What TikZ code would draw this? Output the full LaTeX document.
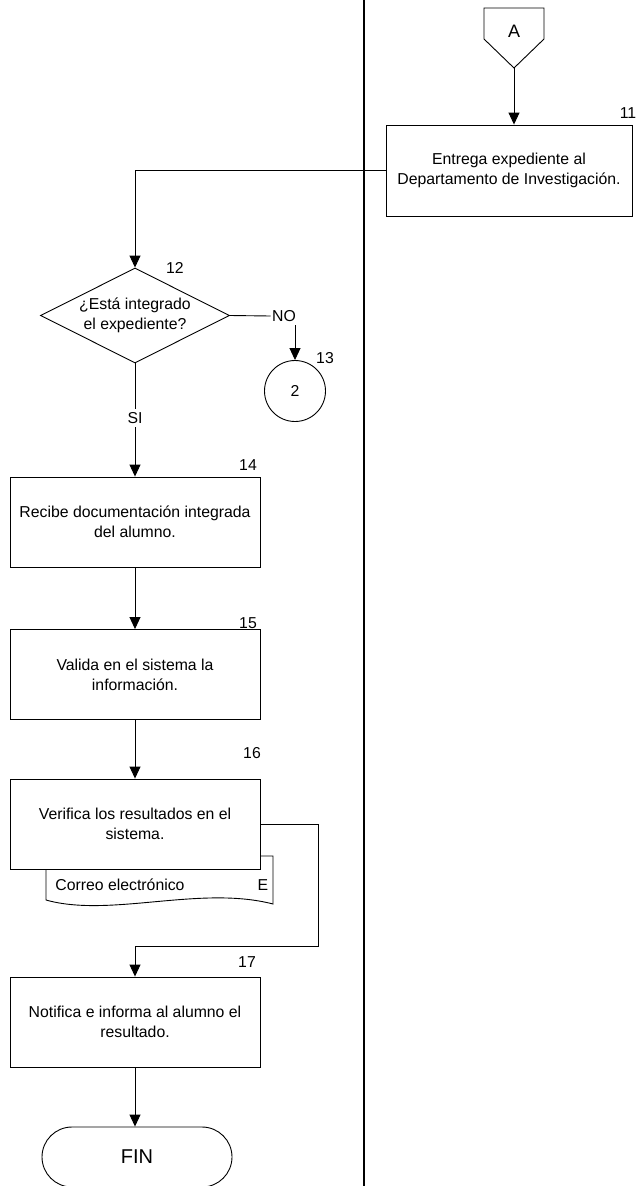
\documentclass[tikz,border=0pt]{standalone}
\usepackage{fontspec}
\setmainfont{Liberation Sans}
\usepackage{tikz}
\usetikzlibrary{shapes.geometric,arrows.meta,positioning}

\begin{document}
\begin{tikzpicture}[x=1pt, y=-1pt, line width=0.9pt,
    every node/.style={font=\fontsize{15.8pt}{20pt}\selectfont},
    proceso/.style={draw, fill=white, minimum width=250pt, minimum height=90pt,
        align=center, inner sep=0pt},
    decision/.style={diamond, draw, aspect=2, inner sep=0pt, align=center,
        minimum width=189pt, minimum height=95pt},
    conector/.style={circle, draw, minimum size=61pt, inner sep=0pt},
    terminal/.style={draw, rounded corners=30pt, minimum width=190pt,
        minimum height=60pt, font=\fontsize{20pt}{24pt}\selectfont},
    paso/.style={inner sep=0pt},
    flecha/.style={-{Triangle[length=12pt,width=11pt]}}]
    \useasboundingbox (0,0) rectangle (639,1186);
    % divisor de carriles
    \draw[line width=2pt] (363.5,0) -- (363.5,1186);

    % conector fuera de pagina A
    \draw (484,8) -- (544,8) -- (544,39) -- (514,68) -- (484,39) -- cycle;
    \node (conA) at (514,31) {\fontsize{18pt}{20pt}\selectfont A};
    \coordinate (conAtip) at (514,68);

    \node[proceso, minimum width=246pt, minimum height=91pt] (b11) at (509,170.5)
        {Entrega expediente al\\Departamento de Investigación.};
    \node[paso] (n11) at (628,113) {11};
    \draw[flecha] (conAtip) -- (conAtip |- b11.north);

    \node[decision] (d12) at (135,315.5) {¿Está integrado\\el expediente?};
    \node[paso] (n12) at (175,268) {12};
    \draw[flecha] (b11.west) -| (d12.north);

    \node[inner xsep=1pt] (no) at (284,316) {NO};
    \node[conector] (c13) at (295,391) {2};
    \node[paso] (n13) at (325,358) {13};
    \draw (d12.east) -- (no.west);
    \draw[flecha] (no.south -| c13) -- (c13.north);

    \node (si) at (135,418) {SI};
    \draw (d12.south) -- (si.north);

    \node[proceso] (b14) at (135,522) {Recibe documentación integrada\\del alumno.};
    \node[paso] (n14) at (248,465) {14};
    \draw[flecha] (si.south) -- (b14.north);

    \node[proceso] (b15) at (135,674.5) {Valida en el sistema la\\información.};
    \node[paso] (n15) at (248,623) {15};
    \draw[flecha] (b14.south) -- (b15.north);

    % documento detras de la actividad 16
    \draw[fill=white] (46,856) -- (46,900) .. controls (110,918) and (200,885) .. (273,904)
        -- (273,856) -- cycle;
    \node[paso, anchor=west] (correo) at (55,885) {Correo electrónico};
    \node[paso] (e16) at (263,885) {E};

    \node[proceso] (b16) at (135,824) {Verifica los resultados en el\\sistema.};
    \node[paso] (n16) at (252,753) {16};
    \draw[flecha] (b15.south) -- (b16.north);

    \node[proceso] (b17) at (135,1022) {Notifica e informa al alumno el\\resultado.};
    \node[paso] (n17) at (247,962) {17};
    \coordinate (r1) at (318,946);
    \draw[flecha] (b16.east) -| (r1) -| (b17.north);

    \node[terminal] (fin) at (137,1157) {FIN};
    \draw[flecha] (b17.south) -- (b17.south |- fin.north);
\end{tikzpicture}
\end{document}
